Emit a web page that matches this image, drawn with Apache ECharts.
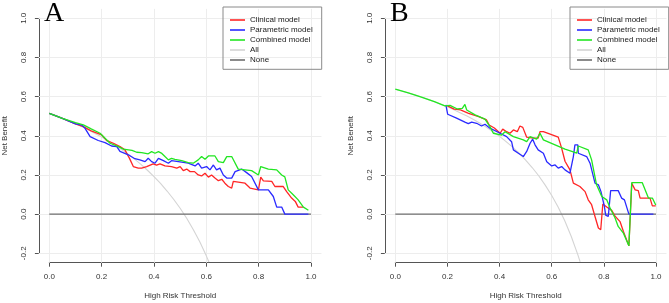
<!DOCTYPE html>
<html>
<head>
<meta charset="utf-8">
<script src="https://cdn.jsdelivr.net/npm/echarts@6/dist/echarts.min.js"></script>
<style>html,body{margin:0;padding:0;background:#fff;}#c{width:669px;height:303px;}</style>
</head>
<body>
<div id="c"></div>
<script>
// ---- data ----
const panelLetters = ['A', 'B'];
const seriesNames = ['Clinical model', 'Parametric model', 'Combined model', 'All', 'None'];
const xTicks = [0, 0.2, 0.4, 0.6, 0.8, 1.0];
const yTicks = [-0.2, 0, 0.2, 0.4, 0.6, 0.8, 1.0];
const xLabel = 'High Risk Threshold';
const yLabel = 'Net Benefit';

const clinicalA = [[0,0.515],[0.05,0.489],[0.1,0.461],[0.13,0.447],[0.16,0.425],[0.2,0.405],[0.22,0.375],[0.245,0.362],[0.27,0.345],[0.289,0.328],[0.306,0.286],[0.321,0.243],[0.34,0.235],[0.353,0.235],[0.372,0.243],[0.397,0.257],[0.41,0.25],[0.423,0.257],[0.442,0.246],[0.467,0.243],[0.487,0.235],[0.5,0.243],[0.512,0.222],[0.525,0.23],[0.538,0.217],[0.555,0.217],[0.569,0.2],[0.582,0.195],[0.595,0.209],[0.608,0.189],[0.62,0.2],[0.633,0.184],[0.646,0.171],[0.659,0.178],[0.671,0.158],[0.684,0.141],[0.697,0.133],[0.703,0.167],[0.748,0.158],[0.767,0.133],[0.799,0.124],[0.808,0.189],[0.818,0.17],[0.85,0.167],[0.862,0.141],[0.894,0.141],[0.907,0.115],[0.926,0.082],[0.94,0.065],[0.951,0.036],[0.97,0.036]];
const parametricA = [[0,0.515],[0.05,0.489],[0.1,0.461],[0.124,0.455],[0.136,0.439],[0.156,0.396],[0.187,0.376],[0.213,0.365],[0.238,0.348],[0.258,0.345],[0.27,0.32],[0.302,0.303],[0.327,0.283],[0.346,0.277],[0.366,0.268],[0.378,0.285],[0.391,0.268],[0.404,0.26],[0.417,0.285],[0.436,0.273],[0.455,0.26],[0.467,0.273],[0.493,0.268],[0.531,0.26],[0.557,0.246],[0.569,0.26],[0.582,0.235],[0.601,0.243],[0.614,0.226],[0.627,0.251],[0.639,0.226],[0.652,0.235],[0.665,0.2],[0.678,0.184],[0.697,0.184],[0.71,0.217],[0.735,0.23],[0.754,0.212],[0.773,0.192],[0.799,0.124],[0.837,0.124],[0.856,0.09],[0.869,0.036],[0.888,0.036],[0.9,0],[0.99,0]];
const combinedA = [[0,0.515],[0.05,0.489],[0.1,0.467],[0.13,0.456],[0.16,0.435],[0.194,0.413],[0.232,0.362],[0.264,0.345],[0.283,0.332],[0.316,0.326],[0.334,0.316],[0.353,0.314],[0.378,0.308],[0.391,0.319],[0.404,0.311],[0.417,0.319],[0.43,0.31],[0.442,0.294],[0.455,0.277],[0.467,0.285],[0.48,0.28],[0.506,0.273],[0.531,0.263],[0.55,0.26],[0.569,0.277],[0.582,0.294],[0.595,0.28],[0.608,0.297],[0.633,0.297],[0.646,0.268],[0.665,0.263],[0.678,0.294],[0.697,0.294],[0.722,0.23],[0.773,0.222],[0.799,0.2],[0.808,0.243],[0.837,0.23],[0.869,0.226],[0.888,0.2],[0.9,0.19],[0.913,0.124],[0.933,0.098],[0.951,0.073],[0.971,0.036],[0.99,0.02]];
const allA = [[0,0.515],[0.025,0.503],[0.05,0.489],[0.075,0.476],[0.1,0.461],[0.125,0.446],[0.15,0.429],[0.175,0.412],[0.2,0.394],[0.225,0.374],[0.25,0.353],[0.275,0.331],[0.3,0.307],[0.325,0.282],[0.35,0.254],[0.375,0.224],[0.4,0.192],[0.425,0.157],[0.45,0.118],[0.475,0.076],[0.5,0.030],[0.525,-0.021],[0.55,-0.078],[0.575,-0.141],[0.6,-0.213],[0.61,-0.244]];
const noneA = [[0,0],[1,0]];

const clinicalB = [[0.2,0.553],[0.226,0.536],[0.25,0.532],[0.281,0.515],[0.32,0.498],[0.35,0.481],[0.36,0.455],[0.38,0.44],[0.402,0.413],[0.412,0.434],[0.427,0.421],[0.44,0.413],[0.453,0.43],[0.468,0.421],[0.478,0.45],[0.489,0.443],[0.504,0.393],[0.529,0.388],[0.548,0.388],[0.555,0.421],[0.568,0.421],[0.625,0.393],[0.638,0.337],[0.651,0.27],[0.67,0.226],[0.683,0.158],[0.708,0.141],[0.728,0.115],[0.74,0.073],[0.753,0.048],[0.766,-0.012],[0.779,-0.071],[0.788,-0.08],[0.796,0.052],[0.811,0.036],[0.83,0.019],[0.843,-0.01],[0.862,-0.038],[0.875,-0.089],[0.896,-0.162],[0.907,0.158],[0.92,0.124],[0.932,0.12],[0.939,0.082],[0.977,0.082],[0.986,0.042],[0.999,0.042]];
const parametricB = [[0.194,0.558],[0.201,0.51],[0.235,0.49],[0.267,0.47],[0.28,0.462],[0.293,0.47],[0.312,0.464],[0.331,0.45],[0.344,0.459],[0.363,0.439],[0.402,0.413],[0.427,0.396],[0.446,0.37],[0.453,0.328],[0.472,0.311],[0.491,0.294],[0.504,0.32],[0.517,0.362],[0.527,0.383],[0.536,0.354],[0.548,0.328],[0.568,0.311],[0.581,0.268],[0.6,0.246],[0.613,0.251],[0.625,0.235],[0.638,0.243],[0.651,0.226],[0.67,0.209],[0.683,0.294],[0.689,0.354],[0.7,0.354],[0.702,0.311],[0.734,0.294],[0.747,0.26],[0.766,0.158],[0.779,0.15],[0.789,0.115],[0.802,0.039],[0.807,-0.005],[0.817,-0.012],[0.826,0.12],[0.855,0.12],[0.868,0.082],[0.879,0.073],[0.896,0],[0.99,0]];
const combinedB = [[0,0.638],[0.05,0.619],[0.1,0.598],[0.15,0.574],[0.19,0.553],[0.21,0.555],[0.238,0.537],[0.257,0.54],[0.267,0.56],[0.274,0.532],[0.306,0.507],[0.344,0.485],[0.351,0.48],[0.363,0.447],[0.376,0.413],[0.408,0.404],[0.421,0.421],[0.453,0.396],[0.491,0.379],[0.504,0.37],[0.517,0.396],[0.542,0.383],[0.555,0.413],[0.568,0.379],[0.651,0.332],[0.677,0.32],[0.696,0.311],[0.702,0.348],[0.74,0.328],[0.753,0.277],[0.772,0.15],[0.792,0.09],[0.811,0.073],[0.824,0.031],[0.843,-0.02],[0.855,-0.063],[0.875,-0.097],[0.896,-0.162],[0.907,0.161],[0.947,0.161],[0.971,0.082],[0.986,0.082],[0.999,0.047]];
const allB = [[0,0.638],[0.025,0.629],[0.05,0.619],[0.075,0.609],[0.1,0.598],[0.125,0.586],[0.15,0.574],[0.175,0.561],[0.2,0.548],[0.225,0.533],[0.25,0.517],[0.275,0.501],[0.3,0.483],[0.325,0.464],[0.35,0.443],[0.375,0.421],[0.4,0.397],[0.425,0.370],[0.45,0.342],[0.475,0.311],[0.5,0.276],[0.525,0.238],[0.55,0.196],[0.575,0.148],[0.6,0.095],[0.625,0.035],[0.65,-0.034],[0.675,-0.114],[0.7,-0.207],[0.709,-0.244]];
const noneB = [[0,0],[1,0]];

// plot-region extension (R style 4%)
const xExt = [-0.04, 1.04];
const yExt = [-0.248, 1.048];

// ---- styling / layout ----
const colors = {clin: '#ff2626', par: '#2a2aff', comb: '#22e622', all: '#d4d4d4', none: '#6e6e6e'};
const FONT = 'Liberation Sans, Arial, sans-serif';
const grids = [
  {left: 49.3, top: 18.3, width: 261.7, height: 235},
  {left: 395.3, top: 18.3, width: 260.7, height: 235}
];
const legendPos = [{left: 223, top: 7}, {left: 570, top: 7}];
const letterPos = [{left: 44, top: 0}, {left: 390, top: 0}];
const panelData = [
  {clin: clinicalA, par: parametricA, comb: combinedA, all: allA, none: noneA},
  {clin: clinicalB, par: parametricB, comb: combinedB, all: allB, none: noneB}
];

const fmt = v => (Math.round(v * 10) / 10).toFixed(1);

const option = {
  animation: false,
  backgroundColor: '#fff',
  textStyle: {fontFamily: FONT},
  title: panelLetters.map((l, i) => ({
    text: l, left: letterPos[i].left, top: letterPos[i].top, padding: 0,
    textStyle: {fontFamily: 'Liberation Serif, Times New Roman, serif', fontSize: 28, fontWeight: 'normal', color: '#000'}
  })),
  grid: grids.map(g => Object.assign({containLabel: false, outerBoundsMode: 'none'}, g)),
  legend: legendPos.map(p => ({
    left: p.left, top: p.top, orient: 'vertical',
    data: seriesNames,
    icon: 'rect', itemWidth: 15, itemHeight: 1.6, itemGap: 0, itemTextGap: 8,
    padding: [8, 9, 4.3, 7],
    borderColor: '#8a8a8a', borderWidth: 1,
    selectedMode: false,
    textStyle: {fontSize: 8, color: '#222', lineHeight: 10, fontFamily: FONT}
  })),
  xAxis: grids.map((g, i) => ({
    gridIndex: i, type: 'value', min: xTicks[0], max: xTicks[xTicks.length - 1], interval: 0.2,
    offset: 9.4,
    axisLine: {show: true, onZero: false, lineStyle: {color: '#555', width: 1}},
    axisTick: {show: true, length: 4, lineStyle: {color: '#555'}},
    axisLabel: {fontSize: 8, color: '#333', margin: 10, formatter: fmt, fontFamily: FONT},
    splitLine: {show: false},
    name: xLabel, nameLocation: 'middle', nameGap: 29.5,
    nameTextStyle: {fontSize: 8, color: '#333', fontFamily: FONT}
  })),
  yAxis: grids.map((g, i) => ({
    gridIndex: i, type: 'value', min: yTicks[0], max: yTicks[yTicks.length - 1], interval: 0.2,
    offset: 10.4,
    axisLine: {show: true, onZero: false, lineStyle: {color: '#555', width: 1}},
    axisTick: {show: true, length: 4, lineStyle: {color: '#555'}},
    axisLabel: {fontSize: 8, color: '#333', margin: 11, rotate: 90, formatter: fmt, fontFamily: FONT},
    splitLine: {show: false},
    name: yLabel, nameLocation: 'middle', nameGap: 30, nameRotate: 90,
    nameTextStyle: {fontSize: 8, color: '#333', fontFamily: FONT}
  })),
  series: []
};

panelData.forEach((d, i) => {
  // grid lines across the whole (extended) plot region
  const gl = xTicks.map(x => ({coords: [[x, yExt[0]], [x, yExt[1]]]}))
    .concat(yTicks.map(y => ({coords: [[xExt[0], y], [xExt[1], y]]})));
  option.series.push({
    type: 'lines', coordinateSystem: 'cartesian2d', xAxisIndex: i, yAxisIndex: i,
    data: gl, clip: false, silent: true, z: 1,
    lineStyle: {color: '#ededed', width: 1, opacity: 1}
  });
  const mk = (name, data, color, width, z) => ({
    name, type: 'line', xAxisIndex: i, yAxisIndex: i, data,
    showSymbol: false, symbol: 'none', clip: false, silent: true, z,
    itemStyle: {color}, lineStyle: {color, width}
  });
  option.series.push(mk('All', d.all, colors.all, 1.1, 2));
  option.series.push(mk('None', d.none, colors.none, 1.1, 3));
  option.series.push(mk('Clinical model', d.clin, colors.clin, 1.3, 4));
  option.series.push(mk('Parametric model', d.par, colors.par, 1.3, 5));
  option.series.push(mk('Combined model', d.comb, colors.comb, 1.3, 6));
});

const chart = echarts.init(document.getElementById('c'), null, {renderer: 'canvas'});
chart.setOption(option);
</script>
</body>
</html>
